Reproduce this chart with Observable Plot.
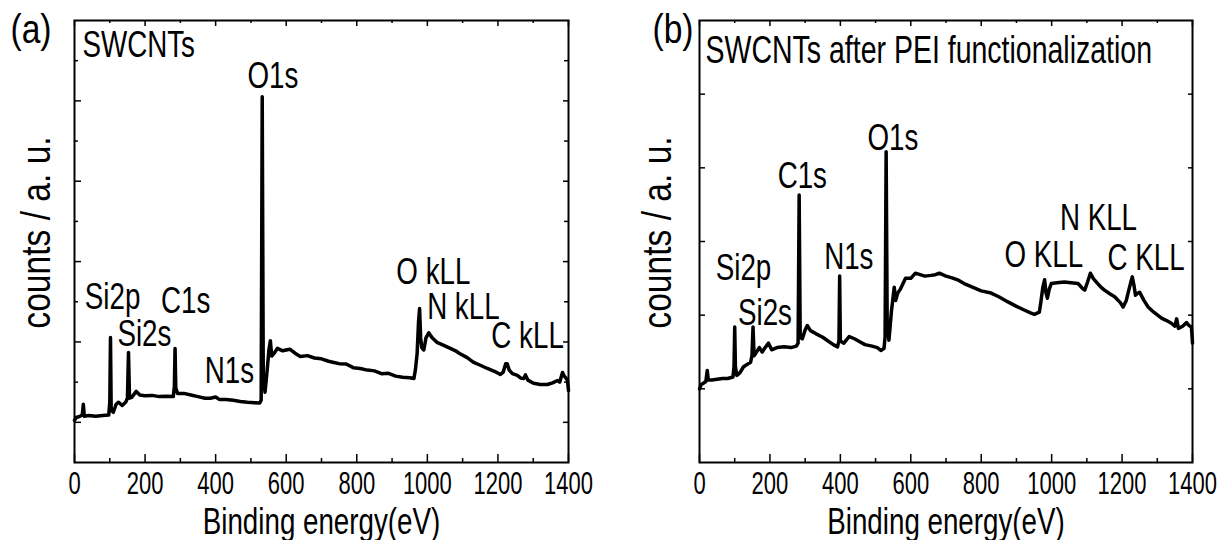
<!DOCTYPE html>
<html><head><meta charset="utf-8">
<script src="https://cdn.jsdelivr.net/npm/d3@7"></script>
<script src="https://cdn.jsdelivr.net/npm/@observablehq/plot@0.6"></script>
<style>
body{margin:0;background:#fff;}
#wrap{display:flex;width:1227px;height:540px;overflow:hidden;}
</style></head><body><div id="wrap"></div>
<script>
// ---- Data ----
const xTicksMajor = [0,200,400,600,800,1000,1200,1400];
const xTicksMinor = [100,300,500,700,900,1100,1300];

// Panel (a): SWCNTs
const energyA = [0,5,15,22,25,28,40,60,80,97,100,102,104,110,118,125,135,145,150,153,156,162,175,185,200,220,240,260,280,283,285,287,292,310,330,350,370,385,400,410,430,450,470,490,510,525,529,532,535,540,546,551,555,559,566,575,590,610,625,640,660,680,700,720,735,750,770,790,810,830,850,870,890,910,930,950,962,966,971,975,978,981,984,990,996,1004,1013,1027,1045,1065,1080,1090,1113,1130,1150,1170,1190,1207,1215,1222,1226,1232,1241,1255,1265,1273,1278,1285,1301,1320,1340,1355,1369,1375,1383,1388,1392,1397,1400];
const countsA = [1.05,1.12,1.15,1.18,1.45,1.15,1.17,1.15,1.17,1.18,1.5,3.11,1.3,1.25,1.45,1.5,1.42,1.5,1.6,2.74,1.6,1.62,1.77,1.68,1.66,1.67,1.64,1.65,1.64,1.9,2.84,1.85,1.72,1.72,1.68,1.64,1.6,1.6,1.63,1.57,1.57,1.55,1.52,1.5,1.49,1.48,1.55,9.1,2.1,1.75,2.3,2.8,3.03,2.65,2.72,2.84,2.78,2.82,2.72,2.64,2.66,2.6,2.58,2.52,2.49,2.46,2.45,2.36,2.34,2.3,2.28,2.21,2.22,2.15,2.12,2.11,2.09,2.3,2.71,3.5,3.83,3.1,2.86,2.8,3.1,3.23,3.11,2.99,2.92,2.84,2.78,2.72,2.61,2.5,2.42,2.34,2.27,2.19,2.25,2.46,2.46,2.3,2.21,2.17,2.1,2.09,2.18,2.05,1.97,1.94,1.94,1.98,2.04,2.0,2.24,2.15,2.11,2.05,1.79];
const yMajorA = [1,3,5,7,9];
const yMinorA = [2,4,6,8,10];
const peakNamesA = ["Si2p","Si2s","C1s","N1s","O1s","O kLL","N kLL","C kLL"];
const peakEnergyA = [108,198,315,439,562,1017,1102,1284];
const peakCountsA = [3.83,2.91,3.73,1.97,9.33,4.45,3.56,2.84];

// Panel (b): SWCNTs after PEI functionalization
const energyB = [0,5,12,18,22,25,35,50,65,80,95,98,100,102,106,115,125,135,145,149,152,155,162,170,178,185,196,205,220,240,260,275,280,283,286,292,300,306,315,330,350,365,380,392,396,398,400,410,425,440,455,470,490,505,515,524,527,530,533,538,545,553,557,563,570,585,600,613,640,657,670,681,700,715,733,755,780,800,828,850,876,900,922,940,951,965,970,975,980,984,988,993,999,1015,1036,1055,1075,1088,1094,1102,1110,1118,1127,1140,1150,1165,1179,1195,1203,1212,1217,1225,1229,1234,1238,1245,1250,1262,1274,1290,1312,1325,1340,1350,1355,1360,1372,1383,1390,1397,1400];
const countsB = [1.0,1.06,1.08,1.1,1.25,1.12,1.12,1.13,1.14,1.14,1.16,1.3,1.84,1.3,1.18,1.22,1.3,1.33,1.36,1.45,1.84,1.45,1.5,1.56,1.5,1.55,1.62,1.53,1.56,1.57,1.56,1.58,1.62,3.63,1.7,1.68,1.8,1.86,1.79,1.75,1.7,1.65,1.6,1.57,1.65,2.53,1.65,1.62,1.71,1.68,1.64,1.6,1.58,1.56,1.52,1.55,1.7,4.22,1.9,1.66,2.05,2.38,2.2,2.3,2.35,2.5,2.5,2.57,2.53,2.54,2.55,2.57,2.53,2.51,2.48,2.42,2.37,2.33,2.3,2.25,2.18,2.12,2.07,2.03,2.01,2.04,2.2,2.38,2.48,2.3,2.23,2.35,2.43,2.44,2.45,2.44,2.43,2.36,2.34,2.45,2.57,2.5,2.45,2.38,2.34,2.29,2.25,2.17,2.11,2.2,2.3,2.45,2.52,2.4,2.27,2.3,2.31,2.2,2.11,2.04,1.96,1.93,1.89,1.85,1.95,1.82,1.85,1.9,1.86,1.84,1.62];
const yTicksB = [1,2,3,4,5];
const peakNamesB = ["Si2p","Si2s","C1s","N1s","O1s","O KLL","N KLL","C KLL"];
const peakEnergyB = [125,186,292,424,549,978,1133,1268];
const peakCountsB = [2.48,1.86,3.72,2.62,4.24,2.65,3.16,2.61];

// ---- Drawing ----
const FONT = '"Liberation Sans", Arial, sans-serif';
const HEIGHT = 540, MT = 20, MB = 78;
// horizontal squeeze per font size (imitates the tall, narrow typeface of the original)
const SQUEEZE = {31: 0.71, 37: 0.75, 38: 0.75, 40: 0.84};

function panel(cfg) {
  const W = cfg.width - cfg.ml - cfg.mr;
  const H = HEIGHT - MT - MB;
  const rows = cfg.energy.map((e, i) => ({e, c: cfg.counts[i]}));
  const peaks = cfg.names.map((n, i) => ({n, e: cfg.pe[i], c: cfg.pc[i]}));
  const tk = {stroke: "black", strokeWidth: 1.5};
  const marks = [
    Plot.line(rows, {x: "e", y: "c", stroke: "black", strokeWidth: 3.5, strokeLinejoin: "round"}),
    Plot.frame({stroke: "black", strokeWidth: 2}),
    Plot.tickX(xTicksMajor, {x: d => d, insetTop: H - 8, ...tk}),
    Plot.tickX(xTicksMinor, {x: d => d, insetTop: H - 4, ...tk}),
    Plot.tickX(xTicksMajor, {x: d => d, insetBottom: H - 6, ...tk}),
    Plot.tickX(xTicksMinor, {x: d => d, insetBottom: H - 3, ...tk}),
    Plot.tickY(cfg.yMajor, {y: d => d, insetRight: W - cfg.majLen, ...tk}),
    Plot.tickY(cfg.yMajor, {y: d => d, insetLeft: W - cfg.majLen + 2, ...tk}),
    Plot.axisX(xTicksMajor, {tickSize: 0, tickPadding: 9, fontSize: 31, tickFormat: d => String(d), label: null}),
    Plot.text(["Binding energy(eV)"], {frameAnchor: "bottom", dy: 71, lineAnchor: "bottom", fontSize: 37}),
    Plot.text(["counts / a. u."], {frameAnchor: "left", textAnchor: "middle", rotate: -90, dx: cfg.ylabDx, dy: -9, fontSize: 40}),
    Plot.text([cfg.title], {frameAnchor: "top-left", textAnchor: "start", lineAnchor: "bottom", dx: cfg.titleDx, dy: cfg.titleDy, fontSize: cfg.titleSize}),
    Plot.text([cfg.tag], {frameAnchor: "top-left", textAnchor: "start", lineAnchor: "bottom", dx: cfg.tagDx, dy: cfg.tagDy, fontSize: 40}),
    Plot.text(peaks, {x: "e", y: "c", text: "n", lineAnchor: "bottom", fontSize: 37})
  ];
  if (cfg.yMinor) {
    marks.push(Plot.tickY(cfg.yMinor, {y: d => d, insetRight: W - 4, ...tk}));
    marks.push(Plot.tickY(cfg.yMinor, {y: d => d, insetLeft: W - 4, ...tk}));
  }
  return Plot.plot({
    width: cfg.width, height: HEIGHT,
    marginLeft: cfg.ml, marginRight: cfg.mr, marginTop: MT, marginBottom: MB,
    style: {fontFamily: FONT, background: "white", color: "black", overflow: "visible"},
    x: {domain: [0, 1400]},
    y: {domain: cfg.yDomain, axis: null},
    marks
  });
}

// Narrow each text around its own anchor point with a scale transform.
function squeeze(svg) {
  svg.querySelectorAll("text").forEach(t => {
    const fs = Math.round(parseFloat(getComputedStyle(t).fontSize));
    const r = SQUEEZE[fs] ?? 0.8;
    let tr = t.getAttribute("transform") || "";
    const xa = t.getAttribute("x");
    if (xa && !/em$/.test(xa)) { tr = `translate(${parseFloat(xa)},0) ` + tr; t.removeAttribute("x"); }
    const ya = t.getAttribute("y");
    if (ya && !/em$/.test(ya)) { tr = `translate(0,${parseFloat(ya)}) ` + tr; t.removeAttribute("y"); }
    t.setAttribute("transform", `${tr} scale(${r},1)`.trim());
  });
}

const wrap = document.getElementById("wrap");
const svgA = panel({
  width: 613, ml: 74, mr: 45,
  energy: energyA, counts: countsA, yDomain: [0, 11],
  yMajor: yMajorA, yMinor: yMinorA, majLen: 7,
  names: peakNamesA, pe: peakEnergyA, pc: peakCountsA,
  title: "SWCNTs", titleSize: 37, titleDx: 8, titleDy: 36,
  tag: "(a)", tagDx: -64, tagDy: 22, ylabDx: -37.5
});
const svgB = panel({
  width: 614, ml: 86, mr: 35,
  energy: energyB, counts: countsB, yDomain: [0, 6],
  yMajor: yTicksB, yMinor: null, majLen: 6,
  names: peakNamesB, pe: peakEnergyB, pc: peakCountsB,
  title: "SWCNTs after PEI functionalization", titleSize: 38, titleDx: 6, titleDy: 42,
  tag: "(b)", tagDx: -47, tagDy: 22, ylabDx: -41.5
});
wrap.appendChild(svgA);
wrap.appendChild(svgB);
squeeze(svgA);
squeeze(svgB);
</script></body></html>
